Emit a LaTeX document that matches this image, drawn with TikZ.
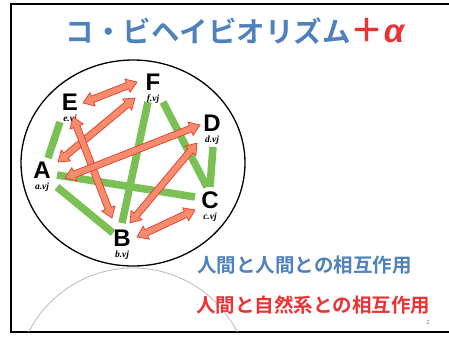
\documentclass[tikz,border=0pt]{standalone}
\usepackage{fontspec}
\setmainfont{Liberation Sans}
\newfontfamily\jpfont{Noto Sans CJK JP}[BoldFont={Noto Sans CJK JP Bold}]
\newfontfamily\vjfont{Liberation Serif}
\usetikzlibrary{positioning,calc,shapes.arrows}

\definecolor{titleblue}{RGB}{79,129,189}
\definecolor{alphared}{RGB}{236,50,50}
\definecolor{bargreen}{RGB}{122,192,84}
\definecolor{arrowfill}{RGB}{246,140,110}
\definecolor{arrowline}{RGB}{232,58,45}

\tikzset{
  letter/.style={font=\bfseries\fontsize{24}{24}\selectfont, inner sep=0pt},
  vjlab/.style={font=\vjfont\bfseries\itshape\fontsize{9.5}{9.5}\selectfont, inner sep=0pt},
  greenbar/.style={draw=bargreen, line width=7.5pt},
  twoarrow/.style={double arrow, draw=arrowline, fill=arrowfill, line width=0.7pt,
    inner xsep=0pt, inner ysep=3pt, double arrow head extend=3.8pt,
    double arrow tip angle=70},
  jptext/.style={font=\jpfont\bfseries\fontsize{#1}{#1}\selectfont, inner sep=0pt}
}

\begin{document}
\begin{tikzpicture}[x=1pt,y=-1pt]
\useasboundingbox (0,0) rectangle (449,338);

% slide frame
\draw[line width=2pt] (449,4) -- (11,4) -- (11,332) -- (449,332);

% lower circle, cut by the frame
\begin{scope}
  \clip (12,5) rectangle (449,331);
  \draw[gray!55, line width=0.8pt] (133,385) circle [radius=117];
\end{scope}

% title
\node[jptext=28.5, text=titleblue] (title) at (235,31)
  {コ・ビヘイビオリズム{\color{alphared}\fontsize{33}{33}\selectfont＋{\rmfamily\bfseries\itshape α}}};

% big circle
\draw[line width=1.3pt] (133,163) ellipse [x radius=112, y radius=103];

% the six persons
\foreach \nm/\xx/\yy in {A/42/170, B/122/238, C/210/200, D/212/123, E/70/102, F/153/82}
  \node[letter] (\nm) at (\xx,\yy) {\nm};

\foreach \nm/\lc in {A/a, B/b, C/c, D/d, E/e, F/f}
  \node[vjlab, below=4pt of \nm] (\nm-vj) {\lc.vj};

% human-human links
\foreach \u/\du/\v/\dv in {E/{-10,20}/A/{6,-12}, A/{15,5}/C/{-15,-3},
    A/{15,17}/B/{-9,-5}, F/{-5,20}/B/{0,-15}, F/{10,20}/C/{-3,-13},
    D/{1,24}/C/{0,-13}}
  \draw[greenbar] ($(\u)+(\du)$) -- ($(\v)+(\dv)$);

% human-nature links
\foreach \u/\du/\v/\dv [count=\i] in {E/{13,1}/F/{-16,0}, A/{16,-8}/F/{-18,16},
    E/{3,15}/B/{-10,-20}, A/{23,8}/D/{-12,2}, B/{8,-15}/D/{-15,20},
    B/{15,-1}/C/{-15,10}}{
  \coordinate (s\i) at ($(\u)+(\du)$);
  \coordinate (t\i) at ($(\v)+(\dv)$);
  \path let \p1=($(t\i)-(s\i)$), \n1={veclen(\x1,\y1)}, \n2={atan2(\y1,\x1)} in
    node[twoarrow, minimum height=\n1, rotate=\n2] (arrow\i) at ($(s\i)!.5!(t\i)$) {};
}

% captions
\node[jptext=19.5, text=titleblue, anchor=west] (human) at (197,265) {人間と人間との相互作用};
\node[jptext=19.5, text=alphared, anchor=west] (nature) at (196,305) {人間と自然系との相互作用};
\node[font=\fontsize{6}{6}\selectfont, text=gray] (page) at (428,322) {2};
\end{tikzpicture}
\end{document}
